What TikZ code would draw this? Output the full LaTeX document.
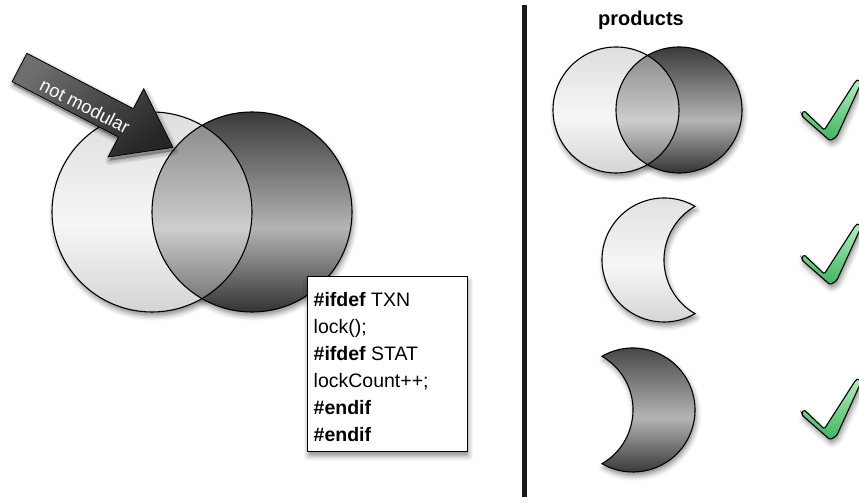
\documentclass[tikz,border=0pt]{standalone}
\usepackage{fontspec}
\setmainfont{Liberation Sans}
\usetikzlibrary{shadows.blur}

% greys for the discs
\definecolor{lgA}{HTML}{D4D4D4}
\definecolor{lgB}{HTML}{F6F6F6}
\definecolor{lgC}{HTML}{DEDEDE}
\definecolor{dkA}{HTML}{333333}
\definecolor{dkB}{HTML}{B4B4B4}
\definecolor{dkC}{HTML}{3A3A3A}
\definecolor{lnA}{HTML}{6A6A6A}
\definecolor{lnB}{HTML}{CDCDCD}
\definecolor{lnC}{HTML}{858585}
\definecolor{arrowlight}{HTML}{6E6E6E}
\definecolor{arrowdark}{HTML}{262626}
\definecolor{checklight}{HTML}{B4EEBE}
\definecolor{checkdark}{HTML}{3FB460}

\pgfdeclareverticalshading{lightdisc}{100bp}{color(0bp)=(lgA); color(25bp)=(lgA); color(47bp)=(lgB); color(75bp)=(lgC); color(100bp)=(lgC)}
\pgfdeclareverticalshading{darkdisc}{100bp}{color(0bp)=(dkA); color(25bp)=(dkA); color(46bp)=(dkB); color(75bp)=(dkC); color(100bp)=(dkC)}
\pgfdeclareverticalshading{lensdisc}{100bp}{color(0bp)=(lnA); color(25bp)=(lnA); color(46bp)=(lnB); color(75bp)=(lnC); color(100bp)=(lnC)}

\tikzset{
  softshadow/.style={blur shadow={shadow xshift=1.5pt, shadow yshift=-4pt, shadow blur radius=5pt, shadow opacity=45}},
  lightfill/.style={shade, shading=lightdisc},
  darkfill/.style={shade, shading=darkdisc},
  lensfill/.style={shade, shading=lensdisc},
  outline/.style={draw=black, line width=1.1pt},
  codebox/.style={draw=black, line width=1pt, fill=white, minimum width=160pt, minimum height=175pt, inner sep=0pt, softshadow},
  codetext/.style={align=left, inner sep=0pt, font=\fontsize{19.5}{27}\selectfont},
  checkmark/.pic={
    \draw[line width=1.1pt, top color=checklight, bottom color=checkdark, rounded corners=1.5pt, softshadow]
      (2,-30.7) -- (22.3,-50) -- (53.3,-1.7) -- (56.3,0.7) -- (58.7,-4)
      -- (34.7,-56.7) -- (28,-60.7) -- (0.7,-36.7) -- (-0.3,-34) -- cycle;
  }
}

\begin{document}
\begin{tikzpicture}[x=1pt,y=1pt]
\useasboundingbox (0,0) rectangle (859,503);

% ---- large overlapping pair of features ----
\path[softshadow] (152,291) circle (100);
\path[softshadow] (252,291) circle (100);
\path[lightfill] (152,291) circle (100);
\path[darkfill] (252,291) circle (100);
\begin{scope}
  \clip (152,291) circle (100);
  \path[lensfill] (252,291) circle (100);
\end{scope}
\draw[outline] (152,291) circle (100) (252,291) circle (100);

% ---- block arrow, with a layered soft shadow ----
\def\arrowpath{(26.9,449.7) -- (133.3,394.3) -- (143.7,414.2) -- (172.9,355.6)
  -- (108.1,346) -- (118.5,365.9) -- (12.1,421.3) -- cycle}
\begin{scope}[shift={(1.5,-3.5)}]
  \foreach \w in {9,6,3,0.5}
    \filldraw[black, opacity=0.08, line width=\w pt, line join=round] \arrowpath;
\end{scope}
\draw[line width=0.8pt, top color=arrowlight, bottom color=arrowdark, shading angle=40] \arrowpath;
\node[text=white, font=\fontsize{18.5}{22}\selectfont, rotate=-27, inner sep=0pt] (notmod) at (85,397) {not modular};

% ---- preprocessor code ----
\node[codebox] (code) at (387,138.5) {};
\node[codetext, anchor=north west] (codelines) at (313.5,210.5)
  {\textbf{\#ifdef} TXN\\lock();\\\textbf{\#ifdef} STAT\\lockCount++;\\\textbf{\#endif}\\\textbf{\#endif}};

% ---- divider ----
\coordinate (divtop) at (524.5,498);
\coordinate (divbot) at (524.5,6);
\draw[line width=5pt, color=black!90] (divtop) -- (divbot);

% ---- products ----
\node[font=\bfseries\fontsize{20}{24}\selectfont, anchor=base, inner sep=0pt] (products) at (641,477) {products};

% both features
\path[softshadow] (616,393) circle (63);
\path[softshadow] (679,393) circle (63);
\path[lightfill] (616,393) circle (63);
\path[darkfill] (679,393) circle (63);
\begin{scope}
  \clip (616,393) circle (63);
  \path[lensfill] (679,393) circle (63);
\end{scope}
\draw[outline] (616,393) circle (63) (679,393) circle (63);

% first feature only
\draw[outline, lightfill, softshadow]
  ($(664,243)+(60:62)$) arc[start angle=60, end angle=300, radius=62]
  arc[start angle=240, end angle=120, radius=62] -- cycle;

% second feature only
\draw[outline, darkfill, softshadow]
  ($(633,93)+(120:62)$) arc[start angle=120, end angle=-120, radius=62]
  arc[start angle=-60, end angle=60, radius=62] -- cycle;

% check marks
\pic at (802,423) {checkmark};
\pic at (802,279) {checkmark};
\pic at (802,124) {checkmark};
\end{tikzpicture}
\end{document}
